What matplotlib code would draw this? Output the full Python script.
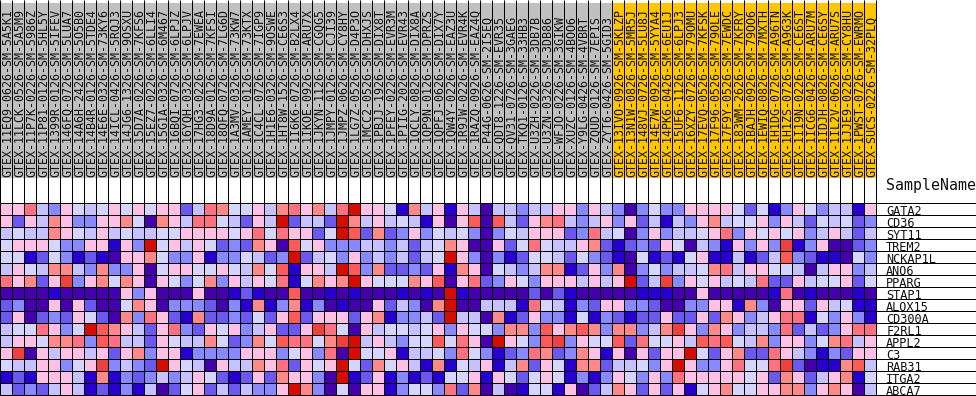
#!/usr/bin/env python3
# -*- coding: utf-8 -*-
"""
Expression heatmap with sample names on top and gene names on the right.
"""

import matplotlib

matplotlib.use("Agg")
import matplotlib.pyplot as plt
import numpy as np
from matplotlib.colors import ListedColormap

W, H = 976, 396

samples = [
    "GTEX-11EQ9-0626-SM-5A5K1", "GTEX-11LCK-0526-SM-5A5M9", "GTEX-11P7K-0226-SM-5986Z",
    "GTEX-11P81-0126-SM-5HL5Y", "GTEX-1399R-0126-SM-5IFEV", "GTEX-146FQ-0726-SM-5LUA7",
    "GTEX-14A6H-2426-SM-5O5B0", "GTEX-14B4R-0126-SM-5TDE4", "GTEX-14E6E-0326-SM-73KY6",
    "GTEX-14ICL-0426-SM-5RQJ3", "GTEX-14JG6-1326-SM-9OSXU", "GTEX-15D7A-0226-SM-7KFS6",
    "GTEX-15EZ7-0226-SM-6LLI4", "GTEX-15G1A-0326-SM-6M467", "GTEX-16BQI-0726-SM-6LPJZ",
    "GTEX-16YQH-0326-SM-6LPJV", "GTEX-17HG3-0226-SM-7EWEA", "GTEX-18D9A-0126-SM-7KFSI",
    "GTEX-18QFQ-0726-SM-7LG6D", "GTEX-1A3MV-0326-SM-73KW7", "GTEX-1AMEY-0126-SM-73KTX",
    "GTEX-1C4CL-0726-SM-7IGP9", "GTEX-1H1E6-0326-SM-9OSWE", "GTEX-1HT8W-1526-SM-CE6S3",
    "GTEX-1I6K6-0726-SM-B2LX4", "GTEX-1IKOE-0926-SM-ARU7X", "GTEX-1JKYN-1126-SM-CGQG5",
    "GTEX-1JMPY-0126-SM-CJI39", "GTEX-1JMPZ-0626-SM-CY8HY", "GTEX-1LG7Z-0526-SM-D4P3O",
    "GTEX-1MCC2-0526-SM-DHXJS", "GTEX-1PBJJ-1926-SM-DIX8T", "GTEX-1PFEY-0226-SM-EVR3M",
    "GTEX-1PIIG-2026-SM-EVR43", "GTEX-1QCLY-0826-SM-DIX8A", "GTEX-1QP9N-0126-SM-DPRZS",
    "GTEX-1QPFJ-0626-SM-DIX7Y", "GTEX-1QW4Y-0226-SM-EAZ3U", "GTEX-1R9JW-0226-SM-EVR4K",
    "GTEX-1RAZQ-0926-SM-EAZ4Q", "GTEX-P44G-0626-SM-2I5EQ", "GTEX-QDT8-1226-SM-EVR35",
    "GTEX-QV31-0726-SM-3GAEG", "GTEX-TKQ1-0126-SM-33HB3", "GTEX-U3ZH-0226-SM-3DB7B",
    "GTEX-U3ZN-0326-SM-3DB86", "GTEX-WFJO-0226-SM-3GIKW", "GTEX-XUZC-0126-SM-4BOO6",
    "GTEX-Y9LG-0426-SM-4VBRT", "GTEX-ZQUD-0126-SM-7EPIS", "GTEX-ZYT6-0426-SM-5GID3",
    "GTEX-13IVO-0926-SM-5KLZP", "GTEX-13N1W-0826-SM-5MR5J", "GTEX-148VJ-0726-SM-5LU8J",
    "GTEX-14E7W-0926-SM-5YYA4", "GTEX-14PK6-0426-SM-6EU1J", "GTEX-15UF6-1126-SM-6LPJ3",
    "GTEX-16XZY-0726-SM-79OMU", "GTEX-17EVQ-0526-SM-7KFSK", "GTEX-17F96-0526-SM-79OLE",
    "GTEX-17F9Y-0526-SM-7EWDC", "GTEX-183WM-2626-SM-7KFRY", "GTEX-1BAJH-0926-SM-79OO6",
    "GTEX-1EWIQ-0826-SM-7MXTH", "GTEX-1H1DG-0726-SM-A96TN", "GTEX-1H1ZS-0726-SM-A9G3K",
    "GTEX-1I19N-0226-SM-CE6ST", "GTEX-1ICG6-0426-SM-ARU7M", "GTEX-1IDJH-0826-SM-CE6SY",
    "GTEX-1IL2V-0626-SM-ARU7S", "GTEX-1JJE9-0226-SM-CY8HU", "GTEX-1PWST-0726-SM-EWRMO",
    "GTEX-SUCS-0226-SM-32PLQ",
]
# 0 = gray class, 1 = orange class
sample_class = [0] * 51 + [1] * 22

genes = ["GATA2", "CD36", "SYT11", "TREM2", "NCKAP1L", "ANO6", "PPARG", "STAP1",
         "ALOX15", "CD300A", "F2RL1", "APPL2", "C3", "RAB31", "ITGA2", "ABCA7"]

level_colors = ["#4500AD", "#2700D1", "#6B58EF", "#8888FF", "#C7C1FF", "#D5D5FF",
                "#FFC0E5", "#FF8989", "#FF7080", "#FF5A5A", "#EF4040", "#D60C00"]
class_colors = ["#C0C0C0", "#FFC600"]

# one hex digit per cell, index into level_colors
cells_a = [
    "6 6 8 4 3 6 5 4 5 6 5 6 5 6 6 2 4 8 7 5 5 6 4 7 8",
    "6 2 6 4 7 6 3 3 6 6 7 5 0 7 6 4 8 8 5 4 2 6 4 b 2",
    "4 5 4 4 7 6 5 4 6 4 5 4 4 5 5 6 6 6 6 5 6 8 5 8 6",
    "5 6 6 6 5 3 3 6 6 1 6 3 b 5 6 4 6 5 2 3 2 7 6 0 9",
    "5 5 1 2 5 3 1 2 1 0 6 6 7 5 3 3 6 1 3 3 5 4 2 3 b",
    "4 6 5 4 7 7 4 3 7 3 3 6 0 5 6 6 5 5 6 5 4 7 5 9 1",
    "8 6 7 2 6 a 3 6 7 5 7 6 0 6 5 3 5 7 3 6 4 6 5 8 1",
    "0 0 0 0 1 0 0 0 0 0 6 3 6 0 0 0 6 0 0 1 2 1 0 0 9",
    "2 3 0 0 6 0 6 2 0 0 5 7 6 0 3 3 3 2 0 3 1 7 1 3 7",
    "2 6 0 2 3 2 6 5 2 0 7 3 8 6 2 1 7 2 2 3 2 5 2 6 9",
    "4 5 5 8 6 3 5 b 9 7 6 4 2 6 8 3 2 6 5 6 3 4 6 2 2",
    "4 6 6 5 7 7 8 3 9 8 4 4 2 6 5 4 4 7 5 2 3 7 5 9 8",
    "6 a 0 6 4 6 6 4 6 2 6 7 3 6 6 1 3 3 3 3 6 6 6 3 5",
    "5 4 4 6 6 3 5 6 a 3 4 3 2 b 6 5 4 0 6 4 4 7 6 8 2",
    "1 2 1 6 6 6 4 1 7 1 3 2 3 4 3 4 6 5 2 1 2 6 2 7 6",
    "4 2 3 2 4 6 4 1 2 1 3 1 4 0 2 5 6 2 4 2 4 3 3 6 b",
]
cells_b = [
    "6 7 4 8 b 6 6 5 1 7 4 6 1 6 4 0 4 4 3 4 4 6 6 3 6",
    "4 4 2 b 7 4 6 4 5 4 1 6 0 6 9 0 9 4 2 6 7 8 4 3 4",
    "6 2 5 b 9 2 7 2 3 6 3 5 4 5 3 0 3 5 4 6 6 6 2 3 8",
    "5 6 3 3 3 4 4 3 4 2 4 5 7 6 0 0 6 2 5 8 5 4 4 6 7",
    "2 4 5 3 6 3 4 3 4 2 4 5 b 6 3 0 3 1 2 5 5 4 2 5 3",
    "6 6 4 b 9 3 7 2 2 3 2 6 1 7 6 0 5 4 3 4 7 7 1 2 6",
    "5 7 6 7 b 6 5 5 5 7 6 9 0 6 8 2 3 6 5 3 6 6 6 4 6",
    "0 0 1 0 1 0 0 0 1 0 1 0 b 1 0 0 0 0 0 2 0 2 1 0 0",
    "1 3 0 1 0 0 6 2 4 3 0 7 b 0 0 4 4 4 1 8 5 4 1 3 2",
    "2 6 6 6 2 6 7 1 3 3 4 2 b 4 4 0 7 1 2 6 3 3 1 5 1",
    "6 a 8 5 0 6 4 5 5 4 5 6 3 6 5 5 3 7 7 3 9 6 7 9 7",
    "8 5 7 a b 4 6 4 3 5 5 9 5 8 6 0 b 6 5 3 9 a 3 6 5",
    "6 3 8 0 b 5 5 6 1 4 4 5 3 8 5 3 1 2 3 8 7 2 3 7 6",
    "6 5 6 b 5 2 7 5 6 4 1 7 1 5 4 6 1 4 7 2 6 5 1 7 7",
    "6 3 0 b 1 2 6 1 3 1 2 1 5 5 6 1 6 5 2 5 6 5 1 3 1",
    "7 3 0 5 0 6 6 1 3 5 5 3 8 2 7 0 4 0 1 5 5 1 6 0 2",
]
cells_c = [
    "4 3 0 3 5 3 3 6 6 6 6 5 2 5 1 3 6 5 3 4 4 1 6",
    "6 3 6 2 4 1 4 3 6 7 4 5 5 6 3 6 4 2 5 4 5 2 3",
    "4 5 0 3 6 3 4 4 5 6 8 3 6 5 6 5 6 3 4 6 4 2 4",
    "2 1 2 3 2 6 5 0 4 3 1 6 3 6 3 a 1 3 6 0 0 2 3",
    "2 1 0 5 1 2 1 5 6 1 1 4 1 2 4 9 3 2 1 1 0 5 3",
    "3 7 0 3 5 3 4 4 5 7 8 4 6 6 5 5 4 0 4 6 6 3 4",
    "4 6 b 2 4 a 3 6 5 6 4 5 4 8 2 2 6 4 5 5 6 2 5",
    "0 0 0 1 1 1 0 0 6 0 0 0 0 0 1 8 0 1 0 0 0 1 0",
    "6 6 3 3 2 0 0 3 3 6 6 1 7 3 0 6 6 2 6 4 5 1 1",
    "3 2 1 2 2 6 2 2 6 2 7 6 3 4 6 8 8 1 5 3 6 3 1",
    "3 7 7 3 4 7 a 6 3 7 6 3 4 4 3 8 2 4 2 3 6 8 8",
    "5 9 2 8 5 5 6 4 9 8 9 5 4 7 3 6 6 3 5 7 8 4 6",
    "1 6 0 6 2 6 6 b 5 2 6 7 2 2 8 6 4 3 1 3 2 6 6",
    "2 4 4 5 3 6 b 6 3 3 6 8 5 5 8 a 2 0 1 1 7 9 4",
    "3 6 5 3 6 3 8 6 6 6 6 6 5 6 2 7 6 2 4 6 7 1 5",
    "4 7 6 2 6 2 6 1 5 6 7 5 5 6 6 7 7 3 6 7 6 0 4",
]

matrix = np.array([[int(v, 16) for v in (a + " " + b + " " + c).split()]
                   for a, b, c in zip(cells_a, cells_b, cells_c)])


def px_axes(fig, left, top, right, bottom):
    return fig.add_axes([left / W, 1 - bottom / H, (right - left) / W, (bottom - top) / H])


plt.rcParams["font.family"] = "DejaVu Sans Mono"
fig = plt.figure(figsize=(W / 100, H / 100), dpi=100, facecolor="white")

n_rows, n_cols = matrix.shape
LEFT, RIGHT = 0.2, 876.2
TOP, BOTTOM = 203.2, 395.2
cell = 12.0

# sample name strip, y axis in pixels
strip = px_axes(fig, LEFT, 0, RIGHT, TOP)
strip.set_xlim(0, n_cols)
strip.set_ylim(TOP, 0)
strip.axis("off")
strip.bar(np.arange(n_cols) + 0.5, 175, width=1, bottom=3,
          color=[class_colors[c] for c in sample_class], linewidth=0)
strip.vlines(np.arange(n_cols + 1), 0, TOP, color="black", linewidth=0.72, clip_on=False)
for i, name in enumerate(samples):
    strip.text(i + 0.6, 177.5, name, rotation=90, ha="center", va="bottom",
               fontsize=8.35, color="#111111")

# heatmap, grid lines go on top of the mesh
ax = px_axes(fig, LEFT, TOP, RIGHT, BOTTOM)
ax.pcolormesh(np.arange(n_cols + 1), np.arange(n_rows + 1), matrix,
              cmap=ListedColormap(level_colors), vmin=-0.5, vmax=11.5)
ax.set_xlim(0, n_cols)
ax.set_ylim(n_rows, 0)
ax.axis("off")
ax.vlines(np.arange(n_cols + 1), 0, n_rows, color="black", linewidth=0.72, clip_on=False)

# gene labels sit on lines running out to the right edge
ax.hlines(np.arange(n_rows + 1), 0, n_cols + (W - RIGHT) / cell,
          color="black", linewidth=0.72, clip_on=False)
for i, gene in enumerate(genes):
    ax.text(n_cols + 10 / cell, i + 1 - 0.5 / cell, gene, ha="left", va="baseline",
            fontsize=8.6, color="#111111", clip_on=False)
ax.text(n_cols + 9.5 / cell, -13.5 / cell, "SampleName", ha="left", va="baseline",
        fontsize=10.7, color="#111111", clip_on=False)

fig.savefig("out.png", dpi=100)
